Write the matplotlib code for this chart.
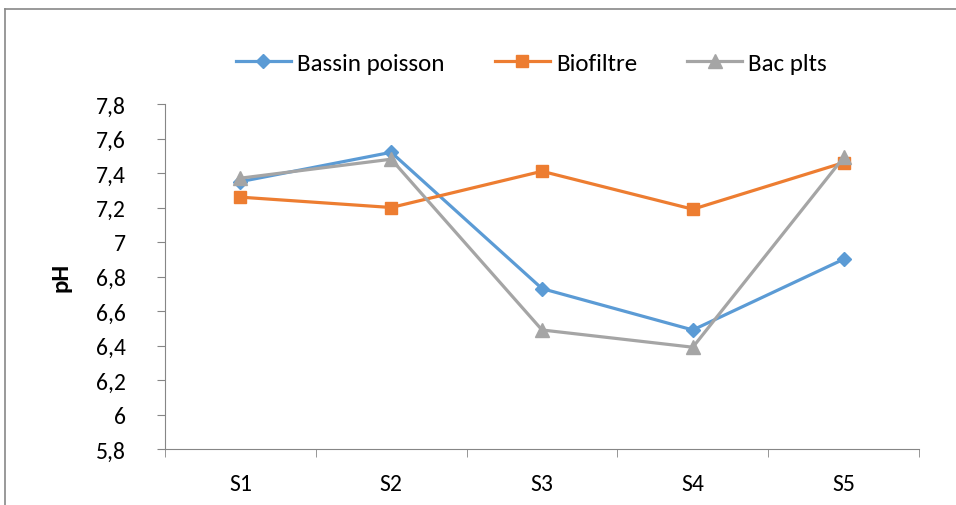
import matplotlib.pyplot as plt
from matplotlib.lines import Line2D
from matplotlib.ticker import FuncFormatter, FixedLocator

plt.rcParams['font.family'] = ['Carlito', 'Lato', 'DejaVu Sans']

sites = ['S1', 'S2', 'S3', 'S4', 'S5']
bassin_poisson = [7.35, 7.52, 6.73, 6.49, 6.90]
biofiltre = [7.26, 7.20, 7.41, 7.19, 7.46]
bac_plts = [7.37, 7.48, 6.49, 6.39, 7.49]

fig = plt.figure(figsize=(9.56, 5.06), dpi=100)
ax = fig.add_axes([165/956, 56/506, (919-165)/956, (450-105)/506])

x = list(range(1, len(sites) + 1))
ax.plot(x, bassin_poisson, color='#5B9BD5', lw=2.3, marker='D', ms=7.5, label='Bassin poisson')
ax.plot(x, biofiltre, color='#ED7D31', lw=2.3, marker='s', ms=9, label='Biofiltre')
ax.plot(x, bac_plts, color='#A5A5A5', lw=2.3, marker='^', ms=9.5, label='Bac plts')

ax.set_xlim(0.5, len(sites) + 0.5)
ax.set_ylim(5.8, 7.8)
ax.set_yticks([5.8 + 0.2 * i for i in range(11)])
ax.yaxis.set_major_formatter(FuncFormatter(lambda v, p: ('%g' % round(v, 1)).replace('.', ',')))
ax.set_xticks(x)
ax.set_xticklabels(sites)
ax.xaxis.set_minor_locator(FixedLocator([i + 0.5 for i in range(len(sites) + 1)]))
ax.tick_params(axis='x', which='major', length=0, pad=17, labelsize=17)
ax.tick_params(axis='x', which='minor', length=6, color='#868686', direction='out')
ax.tick_params(axis='y', length=6, color='#868686', labelsize=17, pad=22)

for s in ['top', 'right']:
    ax.spines[s].set_visible(False)
for s in ['left', 'bottom']:
    ax.spines[s].set_color('#868686')

ax.set_ylabel('pH', fontsize=18, fontweight='bold', labelpad=18)

fig.legend(loc='center', bbox_to_anchor=(0.556, 0.873), ncol=3, frameon=False,
           fontsize=18, handlelength=2.2, handletextpad=0.25, columnspacing=2.0)

# outer chart frame
fig.add_artist(Line2D([5/956, 5/956], [0, 1 - 10/506], color='#888888', lw=1.2))
fig.add_artist(Line2D([5/956, 1], [1 - 10/506, 1 - 10/506], color='#888888', lw=1.2))

fig.savefig('out.png', dpi=100)
